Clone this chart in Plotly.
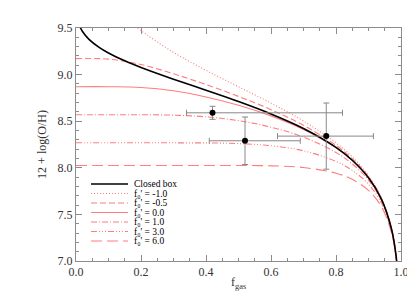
import plotly.graph_objects as go

# ---------------- data ----------------
# closed box model
f_closed = [0.0115, 0.02, 0.04, 0.07, 0.1, 0.15, 0.2, 0.3, 0.4, 0.5, 0.6, 0.7, 0.8, 0.85, 0.9, 0.94, 0.97, 0.985, 0.995]
oh_closed = [9.520, 9.462, 9.378, 9.295, 9.232, 9.148, 9.077, 8.951, 8.832, 8.711, 8.578, 8.422, 8.219, 8.081, 7.893, 7.662, 7.354, 7.049, 6.570]

# f0' = -1.0 (dotted)
f_m10 = [0.19, 0.2, 0.3, 0.4, 0.5, 0.6, 0.7, 0.8, 0.85, 0.9, 0.94, 0.97, 0.985, 0.995]
oh_m10 = [9.500, 9.472, 9.238, 9.046, 8.870, 8.694, 8.502, 8.268, 8.117, 7.916, 7.675, 7.360, 7.053, 6.571]

# common gas-fraction grid for the other models
f_grid = [0.0, 0.1, 0.2, 0.3, 0.4, 0.5, 0.6, 0.7, 0.8, 0.85, 0.9, 0.94, 0.97, 0.985, 0.995]
oh_m05 = [9.171, 9.166, 9.108, 9.009, 8.893, 8.766, 8.624, 8.456, 8.241, 8.098, 7.904, 7.668, 7.357, 7.051, 6.571]
oh_p00 = [8.870, 8.870, 8.862, 8.826, 8.760, 8.671, 8.557, 8.412, 8.215, 8.079, 7.892, 7.661, 7.354, 7.049, 6.570]
oh_p10 = [8.569, 8.569, 8.569, 8.565, 8.547, 8.506, 8.436, 8.329, 8.164, 8.042, 7.868, 7.648, 7.347, 7.046, 6.569]
oh_p30 = [8.268, 8.268, 8.268, 8.268, 8.267, 8.260, 8.237, 8.182, 8.069, 7.972, 7.823, 7.621, 7.334, 7.040, 6.567]
oh_p60 = [8.025, 8.025, 8.025, 8.025, 8.025, 8.025, 8.021, 8.003, 7.942, 7.876, 7.758, 7.582, 7.314, 7.030, 6.564]

# observed points
obs_f = [0.42, 0.52, 0.77]
obs_oh = [8.59, 8.29, 8.34]
obs_f_minus = [0.08, 0.11, 0.15]
obs_f_plus = [0.40, 0.17, 0.145]
obs_oh_err = [0.07, 0.255, 0.355]

model_labels = ["-1.0", "-0.5", "0.0", "1.0", "3.0", "6.0"]

# ---------------- styling ----------------
RED = "rgb(255,125,125)"
dashes = ["1px,2px", "6px,3px", "solid", "6px,2px,1px,2px",
          "6px,2px,1px,2px,1px,2px,1px,2px", "11px,5px"]
FONT = "Liberation Serif, DejaVu Serif, serif"

fig = go.Figure()

model_x = [f_m10, f_grid, f_grid, f_grid, f_grid, f_grid]
model_y = [oh_m10, oh_m05, oh_p00, oh_p10, oh_p30, oh_p60]
for xs, ys, d in zip(model_x, model_y, dashes):
    fig.add_trace(go.Scatter(x=xs, y=ys, mode="lines",
                             line=dict(color=RED, width=1.1, dash=d, shape="spline", smoothing=1.0),
                             showlegend=False, hoverinfo="skip"))

fig.add_trace(go.Scatter(x=f_closed, y=oh_closed, mode="lines",
                         line=dict(color="black", width=1.6, shape="spline", smoothing=1.0),
                         showlegend=False))

fig.add_trace(go.Scatter(
    x=obs_f, y=obs_oh, mode="markers",
    marker=dict(color="black", size=6),
    error_x=dict(type="data", symmetric=False, array=obs_f_plus, arrayminus=obs_f_minus,
                 color="#888888", thickness=1, width=3),
    error_y=dict(type="data", array=obs_oh_err, color="#888888", thickness=1, width=3),
    showlegend=False))

# ---------------- hand-made legend (layout shapes + text) ----------------
L, R, T, B = 68, 22, 20, 44
W, H = 415, 297
pw, ph = W - L - R, H - T - B

def px2paper_x(px):
    return (px - L) / pw

def px2paper_y(py):
    return (H - B - py) / ph

rows_py = [176.0, 185.5, 195.0, 204.5, 214.0, 223.5, 233.0]
x0, x1, xt = px2paper_x(83), px2paper_x(120), px2paper_x(125)
legend_texts = ["Closed box"] + ["f\u2080' = " + s for s in model_labels]
legend_styles = [("black", 1.6, "solid")] + [(RED, 1.1, d) for d in dashes]
for py, txt, (c, w, d) in zip(rows_py, legend_texts, legend_styles):
    yy = px2paper_y(py)
    fig.add_shape(type="line", xref="paper", yref="paper", x0=x0, x1=x1, y0=yy, y1=yy,
                  line=dict(color=c, width=w, dash=d))
    fig.add_annotation(xref="paper", yref="paper", x=xt, y=yy, text=txt, showarrow=False,
                       xanchor="left", yanchor="middle", borderpad=0,
                       font=dict(family=FONT, size=9.5, color="black"))

# x-axis title placed as text just under the tick labels
fig.add_annotation(xref="paper", yref="paper", x=0.5, y=px2paper_y(275), text="f<sub>gas</sub>",
                   showarrow=False, xanchor="center", yanchor="middle",
                   font=dict(family=FONT, size=12, color="#333333"))

axis_common = dict(showline=True, linecolor="#8c8c8c", linewidth=1, mirror="ticks",
                   ticks="inside", tickcolor="#8c8c8c", ticklen=6, showgrid=False, zeroline=False,
                   tickfont=dict(family=FONT, size=12, color="#333333"))

fig.update_xaxes(range=[0, 1], dtick=0.2, tickformat=".1f",
                 minor=dict(dtick=0.05, ticks="inside", ticklen=3, tickcolor="#8c8c8c"),
                 **axis_common)
fig.update_yaxes(range=[7.0, 9.5], dtick=0.5, tickformat=".1f",
                 minor=dict(dtick=0.1, ticks="inside", ticklen=3, tickcolor="#8c8c8c"),
                 title=dict(text="12 + log(O/H)", font=dict(family=FONT, size=12, color="#333333"), standoff=8),
                 **axis_common)

fig.update_layout(width=W, height=H, margin=dict(l=L, r=R, t=T, b=B),
                  plot_bgcolor="white", paper_bgcolor="white", showlegend=False)

fig.write_html("out.html")
